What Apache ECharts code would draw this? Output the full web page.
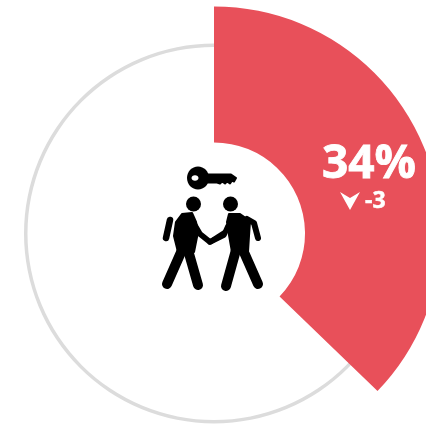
<!DOCTYPE html>
<html><head><meta charset="utf-8">
<style>html,body{margin:0;padding:0;background:#fff}#c{width:426px;height:424px}</style>
<script src="https://cdn.jsdelivr.net/npm/echarts@6/dist/echarts.min.js"></script>
</head><body><div id="c"></div>
<script>
const sliceNames = ['share', 'rest'];
const sliceValues = [37.2, 62.8];
const ringValues = [100];
const valueLabel = '34%';
const changeLabel = '-3';
const RED = '#e8505a', GREY = '#dcdcdc';

const limb = (pts, w) => ({
  type: 'polyline', shape: { points: pts, smooth: 0 },
  style: { fill: null, stroke: '#000', lineWidth: w, lineCap: 'round', lineJoin: 'round' }, z: 10
});
const blob = (pts) => ({
  type: 'polygon', shape: { points: pts },
  style: { fill: '#000', stroke: '#000', lineWidth: 2, lineJoin: 'round' }, z: 10
});
const dot = (cx, cy, r, fill) => ({
  type: 'circle', shape: { cx, cy, r }, style: { fill: fill || '#000' }, z: 10
});

const icon = [
  // key
  { type: 'ellipse', shape: { cx: 198, cy: 178, rx: 11, ry: 11.5 }, style: { fill: '#000' }, z: 10 },
  { type: 'ellipse', shape: { cx: 195, cy: 178, rx: 3.5, ry: 2.8 }, style: { fill: '#fff' }, z: 11 },
  blob([[207,174.5],[231,174.5],[236,178],[234,181.5],[232,180.5],[230,183.5],[227,181.5],[225,183.5],[222,181.5],[220,183.5],[217,182.5],[207,182.5]]),
  // left person
  dot(193.5, 204, 7.5),
  blob([[182,214],[192,213],[196,222],[198,232],[194,252],[178,252],[174,236],[176,222]]),
  limb([[170,220],[166,238]], 6.5),
  limb([[193,222],[200,234],[210,242],[224,233]], 5.5),
  limb([[182,250],[167,284]], 10),
  limb([[188,250],[198,285]], 10),
  // right person
  dot(230.5, 204, 7.5),
  blob([[229,214],[240,214],[250,221],[249,236],[248,252],[232,252],[229,235],[227,222]]),
  limb([[247,219],[254,223],[258,238]], 6),
  limb([[228,226],[224,235],[210,242]], 5.5),
  limb([[236,250],[226,286]], 10),
  limb([[243,250],[258,284]], 10),
  // change arrow
  { type: 'polygon', shape: { points: [[340,192],[350,198],[360,192],[350,210]] }, style: { fill: '#fff' }, z: 10 }
];

const texts = [
  { type: 'text', x: 369, y: 164.5, z: 10, style: { text: valueLabel, fill: '#fff', stroke: '#fff', lineWidth: 0.8, fontFamily: 'Open Sans', fontWeight: 'bold', fontSize: 46, align: 'center', verticalAlign: 'middle' } },
  { type: 'text', x: 365, y: 201.5, z: 10, style: { text: changeLabel, fill: '#fff', stroke: '#fff', lineWidth: 0.5, fontFamily: 'Open Sans', fontWeight: 'bold', fontSize: 23, align: 'left', verticalAlign: 'middle' } }
];

const chart = echarts.init(document.getElementById('c'), null, { renderer: 'canvas' });
chart.setOption({
  animation: false,
  backgroundColor: '#fff',
  series: [
    {
      type: 'pie', center: [214, 233.5], radius: [186.5, 190], silent: true, z: 1,
      label: { show: false }, labelLine: { show: false },
      itemStyle: { color: GREY },
      data: ringValues.map(v => ({ value: v }))
    },
    {
      type: 'pie', center: [214, 233.5], radius: [91, 227], startAngle: 90, clockwise: true, silent: true, z: 2,
      label: { show: false }, labelLine: { show: false },
      data: sliceValues.map((v, i) => ({
        name: sliceNames[i], value: v,
        itemStyle: { color: i === 0 ? RED : 'rgba(0,0,0,0)' }
      }))
    }
  ],
  graphic: { elements: icon.concat(texts) }
});
</script></body></html>
